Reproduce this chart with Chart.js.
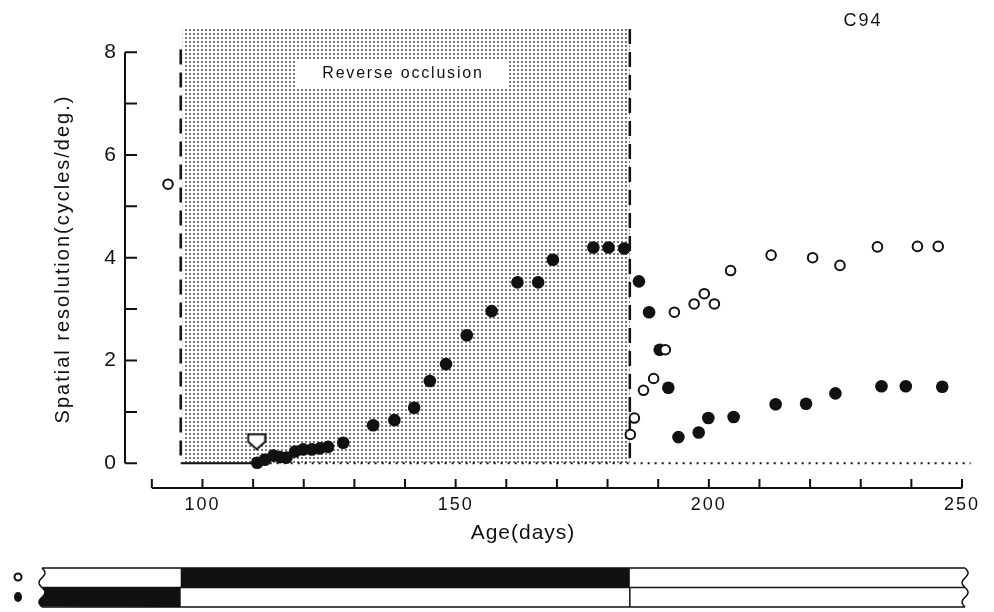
<!DOCTYPE html>
<html lang="en">
<head>
<meta charset="UTF-8">
<title>C94 spatial resolution vs age</title>
<script src="https://cdn.jsdelivr.net/npm/chart.js"></script>
<style>
  body { margin: 0; background: #fff; }
  #wrap { width: 994px; height: 612px; position: relative; }
</style>
</head>
<body>
<div id="wrap"><canvas id="acuityChart"></canvas></div>
<script>
// open circles (eye closed first, opened at reverse occlusion)
const openAge = [93.2, 184.5, 185.3, 187.1, 189.1, 191.4, 193.2, 197.1, 199.1, 201.1,
                 204.3, 212.3, 220.5, 225.9, 233.3, 241.2, 245.3];
const openAcuity = [5.43, 0.56, 0.88, 1.42, 1.65, 2.21, 2.94, 3.10, 3.30, 3.10,
                    3.75, 4.05, 4.00, 3.85, 4.21, 4.22, 4.22];

// filled circles (eye open first, closed at reverse occlusion)
const filledAge = [110.8, 112.3, 114.0, 115.3, 116.6, 118.3, 119.9, 121.6, 123.2, 124.8,
                   127.8, 133.7, 137.9, 141.8, 144.9, 148.1, 152.2, 157.1, 162.2, 166.3,
                   169.2, 177.2, 180.2, 183.3, 186.2, 188.2, 190.3, 192.0, 194.0, 198.0,
                   199.9, 204.9, 213.2, 219.2, 225.0, 234.1, 238.9, 246.1];
const filledAcuity = [0.01, 0.07, 0.15, 0.12, 0.11, 0.23, 0.27, 0.27, 0.29, 0.32,
                      0.40, 0.74, 0.84, 1.08, 1.60, 1.93, 2.49, 2.96, 3.52, 3.52,
                      3.96, 4.20, 4.20, 4.18, 3.54, 2.94, 2.21, 1.47, 0.51, 0.60,
                      0.88, 0.90, 1.15, 1.16, 1.36, 1.50, 1.50, 1.49];

// first visual response (arrow)
const onsetAge = [110.7];
const onsetAcuity = [0.42];

const xTickDays = [90, 100, 110, 120, 130, 140, 150, 160, 170, 180, 190, 200, 210, 220, 230, 240, 250];
const xLabelDays = [100, 150, 200, 250];
const yTickValues = [0, 1, 2, 3, 4, 5, 6, 7, 8];
const yLabelValues = [0, 2, 4, 6, 8];

// occlusion schedule (days)
const occlusionStart = 95.7;
const occlusionEnd = 184.4;
const zeroLineEnd = 110.5;
const dottedLineEnd = 251.7;
const barStartDay = 68.3;
const barEndDay = 250.6;

const ink = '#111';

// arrow marker used as point style
function makeArrow() {
    const c = document.createElement('canvas');
    c.width = 20; c.height = 18;
    const g = c.getContext('2d');
    g.beginPath();
    g.moveTo(1.5, 1.5); g.lineTo(18.5, 1.5); g.lineTo(18.5, 9);
    g.lineTo(10, 16.5); g.lineTo(1.5, 9); g.closePath();
    g.fillStyle = '#fff'; g.fill();
    g.lineWidth = 2; g.strokeStyle = ink; g.stroke();
    return c;
}

function stipple(ctx) {
    const c = document.createElement('canvas');
    c.width = 4; c.height = 4;
    const g = c.getContext('2d');
    g.fillStyle = '#fff'; g.fillRect(0, 0, 4, 4);
    g.fillStyle = '#7a7a7a'; g.fillRect(1, 1, 2, 2);
    return ctx.createPattern(c, 'repeat');
}

function wavyX(x0, yy, top, bot) {
    return x0 + 3 * Math.sin((yy - top) / (bot - top) * Math.PI * 4);
}

const figureDecor = {
    id: 'figureDecor',
    beforeDraw(chart) {
        chart.ctx.letterSpacing = '2px';
    },
    beforeDatasetsDraw(chart) {
        const { ctx, scales: { x, y } } = chart;
        const xs = x.getPixelForValue(occlusionStart);
        const xe = x.getPixelForValue(occlusionEnd);
        const y0 = y.getPixelForValue(0);
        const yTop = chart.chartArea.top;
        ctx.save();

        // stippled occlusion period
        ctx.fillStyle = stipple(ctx);
        ctx.fillRect(xs + 2, yTop, xe - xs - 2, y0 - yTop);

        // label box
        const lx = x.getPixelForValue(139.4), ly = y.getPixelForValue(7.58);
        ctx.fillStyle = '#fff';
        ctx.fillRect(lx - 105, ly - 14, 210, 28);
        ctx.fillStyle = ink;
        ctx.font = '16px "Liberation Sans", Arial, sans-serif';
        ctx.letterSpacing = '1.8px';
        ctx.textAlign = 'center';
        ctx.textBaseline = 'middle';
        ctx.fillText('Reverse occlusion', lx + 1, ly);

        // dashed borders
        ctx.strokeStyle = ink;
        ctx.lineWidth = 2.5;
        ctx.setLineDash([15, 8]);
        ctx.beginPath();
        ctx.moveTo(xs, y.getPixelForValue(8.05)); ctx.lineTo(xs, y0);
        ctx.moveTo(xe, yTop); ctx.lineTo(xe, y0);
        ctx.stroke();

        // solid zero line before first response
        ctx.setLineDash([]);
        ctx.lineWidth = 2;
        ctx.beginPath();
        ctx.moveTo(xs, y0); ctx.lineTo(x.getPixelForValue(zeroLineEnd), y0);
        ctx.stroke();

        // dotted zero line
        ctx.setLineDash([2, 5]);
        ctx.beginPath();
        ctx.moveTo(x.getPixelForValue(zeroLineEnd), y0);
        ctx.lineTo(x.getPixelForValue(dottedLineEnd), y0);
        ctx.stroke();
        ctx.setLineDash([]);

        // y axis with inward ticks
        const ax = chart.chartArea.left;
        ctx.lineWidth = 2;
        ctx.beginPath();
        ctx.moveTo(ax, y.getPixelForValue(0)); ctx.lineTo(ax, y.getPixelForValue(8));
        yTickValues.forEach(v => {
            const py = y.getPixelForValue(v);
            ctx.moveTo(ax, py); ctx.lineTo(ax + 12, py);
        });
        ctx.stroke();

        // x axis with upward ticks
        const ay = chart.chartArea.bottom - 1;
        ctx.beginPath();
        ctx.moveTo(x.getPixelForValue(xTickDays[0]), ay);
        ctx.lineTo(x.getPixelForValue(xTickDays[xTickDays.length - 1]), ay);
        xTickDays.forEach(d => {
            const px = x.getPixelForValue(d);
            ctx.moveTo(px, ay); ctx.lineTo(px, ay - 9);
        });
        ctx.stroke();
        ctx.restore();
    },
    afterDraw(chart) {
        const { ctx, scales: { x } } = chart;
        ctx.save();
        ctx.fillStyle = ink;
        ctx.textAlign = 'center';
        ctx.textBaseline = 'middle';
        ctx.font = '18px "Liberation Sans", Arial, sans-serif';
        ctx.letterSpacing = '2px';
        ctx.fillText('C94', 863, 21);
        ctx.font = '21px "Liberation Sans", Arial, sans-serif';
        ctx.letterSpacing = '1px';
        ctx.fillText('Age(days)', 523, 533);

        // eye occlusion schedule bar
        const top = 568, mid = 587.5, bot = 607;
        const xl = x.getPixelForValue(barStartDay), xr = x.getPixelForValue(barEndDay);
        const x1 = x.getPixelForValue(occlusionStart), x2 = x.getPixelForValue(occlusionEnd);
        ctx.fillStyle = ink;
        ctx.fillRect(x1, top, x2 - x1, mid - top);
        ctx.beginPath();
        ctx.moveTo(wavyX(xl, mid, top, bot), mid);
        for (let yy = mid; yy <= bot; yy += 1) ctx.lineTo(wavyX(xl, yy, top, bot), yy);
        ctx.lineTo(x1, bot); ctx.lineTo(x1, mid); ctx.closePath();
        ctx.fill();

        ctx.strokeStyle = ink;
        ctx.lineWidth = 1.5;
        ctx.beginPath();
        [top, mid, bot].forEach(yy => {
            ctx.moveTo(wavyX(xl, yy, top, bot), yy);
            ctx.lineTo(wavyX(xr, yy, top, bot), yy);
        });
        ctx.moveTo(wavyX(xl, top, top, bot), top);
        for (let yy = top; yy <= bot; yy += 1) ctx.lineTo(wavyX(xl, yy, top, bot), yy);
        ctx.moveTo(wavyX(xr, top, top, bot), top);
        for (let yy = top; yy <= bot; yy += 1) ctx.lineTo(wavyX(xr, yy, top, bot), yy);
        ctx.moveTo(x2, mid); ctx.lineTo(x2, bot);
        ctx.stroke();

        // row symbols
        ctx.lineWidth = 2;
        ctx.beginPath();
        ctx.arc(18, 577, 3.5, 0, Math.PI * 2);
        ctx.stroke();
        ctx.beginPath();
        ctx.ellipse(18, 597, 4, 5, 0, 0, Math.PI * 2);
        ctx.fill();
        ctx.restore();
    }
};

const toPoints = (xs, ys) => xs.map((v, i) => ({ x: v, y: ys[i] }));

new Chart(document.getElementById('acuityChart'), {
    type: 'scatter',
    data: {
        datasets: [
            {
                label: 'open',
                data: toPoints(openAge, openAcuity),
                pointStyle: 'circle',
                pointRadius: 4.8,
                pointBorderWidth: 2,
                pointBackgroundColor: '#fff',
                pointBorderColor: ink,
                order: 0,
                clip: false
            },
            {
                label: 'filled',
                data: toPoints(filledAge, filledAcuity),
                pointStyle: 'circle',
                pointRadius: 6.3,
                pointBorderWidth: 0,
                pointBackgroundColor: ink,
                pointBorderColor: ink,
                order: 1,
                clip: false
            },
            {
                label: 'onset',
                data: toPoints(onsetAge, onsetAcuity),
                pointStyle: makeArrow(),
                order: 2,
                clip: false
            }
        ]
    },
    options: {
        responsive: true,
        maintainAspectRatio: false,
        animation: false,
        layout: { padding: { left: 0, right: 32, top: 29, bottom: 83 } },
        plugins: { legend: { display: false }, tooltip: { enabled: false } },
        scales: {
            x: {
                type: 'linear',
                min: 84.7,
                max: 250,
                grid: { display: false, drawTicks: false },
                border: { display: false },
                afterBuildTicks: axis => { axis.ticks = xTickDays.map(v => ({ value: v })); },
                afterFit: axis => { axis.height = 40; },
                ticks: {
                    color: ink,
                    padding: 5,
                    font: { family: '"Liberation Sans", Arial, sans-serif', size: 18 },
                    callback: v => xLabelDays.includes(v) ? String(v) : ''
                }
            },
            y: {
                type: 'linear',
                min: -0.5,
                max: 8.45,
                grid: { display: false, drawTicks: false },
                border: { display: false },
                afterBuildTicks: axis => { axis.ticks = yTickValues.map(v => ({ value: v })); },
                afterFit: axis => { axis.width = 125; },
                ticks: {
                    color: ink,
                    padding: 7,
                    font: { family: '"Liberation Sans", Arial, sans-serif', size: 21 },
                    callback: v => yLabelValues.includes(v) ? String(v) : ''
                },
                title: {
                    display: true,
                    text: 'Spatial resolution(cycles/deg.)',
                    color: ink,
                    padding: { top: 51, bottom: 0 },
                    font: { family: '"Liberation Sans", Arial, sans-serif', size: 20 }
                }
            }
        }
    },
    plugins: [figureDecor]
});
</script>
</body>
</html>
